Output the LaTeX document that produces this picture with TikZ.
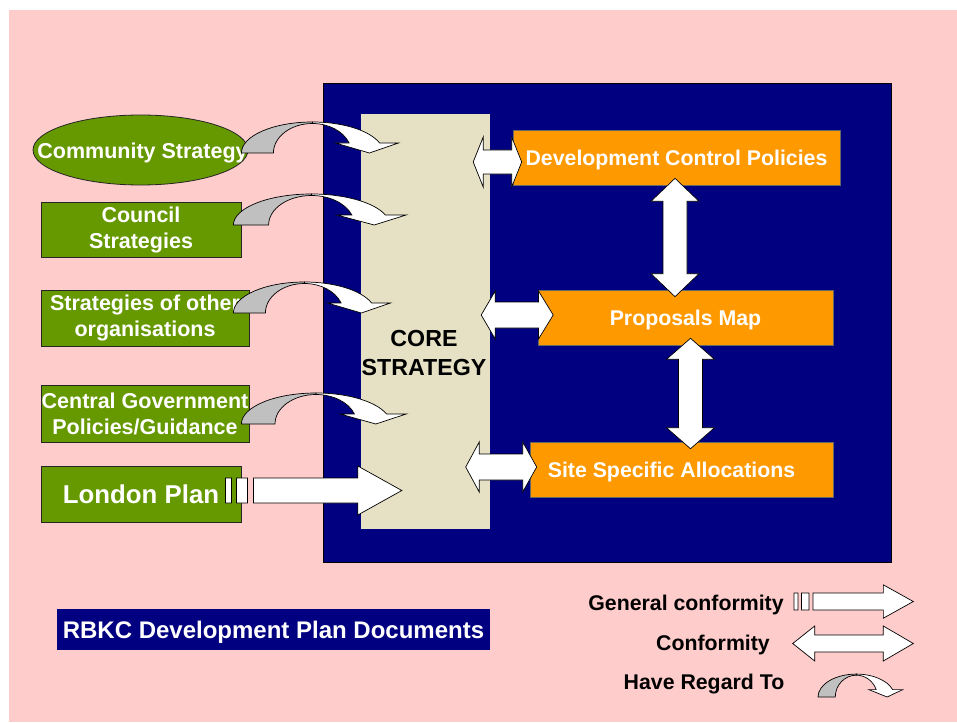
\documentclass[tikz,border=0pt]{standalone}
\usepackage{fontspec}
\setmainfont{Liberation Sans}
\usetikzlibrary{calc,shapes.geometric}

\definecolor{pagepink}{HTML}{FFCCCC}
\definecolor{plannavy}{HTML}{000080}
\definecolor{corebeige}{HTML}{E6E0C4}
\definecolor{docorange}{HTML}{FF9900}
\definecolor{srcgreen}{HTML}{669900}
\definecolor{backgray}{HTML}{C0C0C0}

% horizontal double block arrow: left tip, right tip, left head length,
% right head length, head half-height, shaft half-height
\newcommand\hdblarrow[6]{%
  \draw[blockarrow] let \p1=(#1), \p2=(#2) in
    (\x1,\y1) -- (\x1+#3pt,\y1+#5pt) -- (\x1+#3pt,\y1+#6pt) -- (\x2-#4pt,\y1+#6pt)
    -- (\x2-#4pt,\y1+#5pt) -- (\x2,\y1) -- (\x2-#4pt,\y1-#5pt) -- (\x2-#4pt,\y1-#6pt)
    -- (\x1+#3pt,\y1-#6pt) -- (\x1+#3pt,\y1-#5pt) -- cycle;}

% vertical double block arrow: top tip, bottom tip, head length,
% head half-width, shaft half-width
\newcommand\vdblarrow[5]{%
  \draw[blockarrow] let \p1=(#1), \p2=(#2) in
    (\x1,\y1) -- (\x1+#4pt,\y1-#3pt) -- (\x1+#5pt,\y1-#3pt) -- (\x1+#5pt,\y2+#3pt)
    -- (\x1+#4pt,\y2+#3pt) -- (\x1,\y2) -- (\x1-#4pt,\y2+#3pt) -- (\x1-#5pt,\y2+#3pt)
    -- (\x1-#5pt,\y1-#3pt) -- (\x1-#4pt,\y1-#3pt) -- cycle;}

% "general conformity" arrow: two bars then a block arrow; start, tip, scale
\newcommand\genarrow[3]{%
  \draw[blockarrow] let \p1=(#1), \p2=(#2) in
    (\x1,\y2-12.5pt*#3) rectangle (\x1+6pt*#3,\y2+12.5pt*#3)
    (\x1+11pt*#3,\y2-12.5pt*#3) rectangle (\x1+22pt*#3,\y2+12.5pt*#3)
    (\x1+28pt*#3,\y2-12.5pt*#3) -- (\x2-44pt*#3,\y2-12.5pt*#3)
    -- (\x2-44pt*#3,\y2-24.5pt*#3) -- (\x2,\y2) -- (\x2-44pt*#3,\y2+24.5pt*#3)
    -- (\x2-44pt*#3,\y2+12.5pt*#3) -- (\x1+28pt*#3,\y2+12.5pt*#3) -- cycle;}

\begin{document}
\begin{tikzpicture}[x=1pt,y=-1pt,
  blockarrow/.style={draw=black, line width=0.7pt, fill=white, line join=miter},
  regardback/.style={draw=black, line width=0.7pt, fill=backgray},
  srcbox/.style={draw=black!85, line width=0.8pt, fill=srcgreen, inner sep=0pt,
    text=white, font=\fontsize{21.5}{26}\selectfont\bfseries, align=center},
  docbox/.style={draw=black!60, line width=0.6pt, fill=docorange, inner sep=0pt,
    minimum height=55pt},
  doctext/.style={text=white, font=\fontsize{21.3}{25}\selectfont\bfseries,
    text height=15.2pt, text depth=0pt, inner sep=0pt},
  keytext/.style={text=black, font=\fontsize{21.3}{25}\selectfont\bfseries,
    text height=15.2pt, text depth=0pt, inner sep=0pt},
  regard/.pic={
    \draw[regardback] (0,0) .. controls (0,-17.1) and (31.8,-31) .. (71,-31)
      -- (71,-29.5) .. controls (49.5,-29.5) and (32,-16.3) .. (32,0) -- cycle;
    \draw[blockarrow] (71,-31) .. controls (101.4,-31) and (128.4,-22.5) .. (138.2,-10)
      -- (157,-10) -- (128,0) -- (94,-10) -- (107.7,-10)
      .. controls (102.1,-21.7) and (87.4,-29.5) .. (71,-29.5) -- cycle;
  },
]
\useasboundingbox (0,0) rectangle (957,722);
\fill[white] (0,0) rectangle (957,722);
\fill[pagepink] (9,10) rectangle (957,722);

% development plan frame and core strategy column
\node[draw=black, line width=0.8pt, fill=plannavy, inner sep=0pt,
      minimum width=568pt, minimum height=479pt] (plan) at (607,322.5) {};
\node[fill=corebeige, inner sep=0pt, minimum width=129pt, minimum height=415pt]
      (core) at (425.5,321.5) {};
\node[text=black, font=\fontsize{23.2}{29}\selectfont\bfseries, align=center,
      inner sep=0pt] (coretext) at (424,353.5) {CORE\\STRATEGY};

% documents
\node[docbox, doctext, minimum width=327pt] (dcp) at (676.5,157.5) {Development Control Policies};
\node[docbox, doctext, minimum width=295pt] (pm) at (685.5,317.5) {Proposals Map};
\node[docbox, minimum width=303pt] (ssa) at (681.5,469.5) {};
\node[doctext] (ssatext) at ($(ssa)+(-10,0)$) {Site Specific Allocations};

% sources
\node[ellipse, draw=black!85, line width=0.8pt, fill=srcgreen, inner sep=0pt,
      minimum width=215pt, minimum height=70pt] (cs) at (140.5,150) {};
\node[text=white, font=\fontsize{21.5}{26}\selectfont\bfseries, text height=15.4pt,
      text depth=0pt, inner sep=0pt] (cstext) at (142.5,150.5) {Community Strategy};
\node[srcbox, minimum width=200pt, minimum height=55pt] (council) at (141,229.5) {Council\\Strategies};
\node[srcbox, minimum width=208pt, minimum height=56pt] (others) at (145,318) {Strategies of other\\organisations};
\node[srcbox, minimum width=208pt, minimum height=57pt] (central) at (145,413.5) {Central Government\\Policies/Guidance};
\node[srcbox, minimum width=200pt, minimum height=56pt, font=\fontsize{25.8}{30}\selectfont\bfseries,
      text height=18.5pt, text depth=0pt] (london) at (141,494.5) {London Plan};

% title
\node[fill=plannavy, inner sep=0pt, minimum width=433pt, minimum height=41pt, text=white,
      font=\fontsize{24}{29}\selectfont\bfseries, text height=17.2pt, text depth=0pt]
      (rbkc) at (273.5,629.5) {RBKC Development Plan Documents};

% conformity arrows between the core strategy and the documents
\coordinate (h1l) at ($(core.east|-dcp.west)+(-17,4.5)$);
\coordinate (h1r) at ($(dcp.west)+(9,4.5)$);
\hdblarrow{h1l}{h1r}{10}{10}{25}{12}
\coordinate (h2l) at ($(core.east|-pm.west)+(-9,-2.5)$);
\coordinate (h2r) at ($(pm.west)+(15.5,-2.5)$);
\hdblarrow{h2l}{h2r}{14}{14.7}{24}{13}
\coordinate (h3l) at ($(core.east|-ssa.west)+(-24.5,-2.5)$);
\coordinate (h3r) at ($(ssa.west)+(7,-2.5)$);
\hdblarrow{h3l}{h3r}{13.5}{14}{25}{13}

\coordinate (v1t) at ($(dcp.south)+(-1.5,-7)$);
\coordinate (v1b) at ($(pm.north-|dcp.south)+(-1.5,7)$);
\vdblarrow{v1t}{v1b}{23}{24}{12}
\coordinate (v2t) at ($(pm.south)+(5,-7)$);
\coordinate (v2b) at ($(ssa.north-|pm.south)+(5,7)$);
\vdblarrow{v2t}{v2b}{21}{24}{12}

% general conformity with the London Plan
\coordinate (lpa) at ($(london.east)+(-16,-4)$);
\coordinate (lpb) at ($(core.west|-london.east)+(41,-4)$);
\genarrow{lpa}{lpb}{1}

% have-regard-to arrows
\pic at ($(cs.east)+(-7,3)$) {regard};
\pic[xscale=1.1] at ($(council.east)+(-8,-4.5)$) {regard};
\pic at ($(others.east)+(-16,-5)$) {regard};
\pic[xscale=1.05] at ($(central.east)+(-8,10.5)$) {regard};

% key
\node[keytext] (kgen) at (686,603.3) {General conformity};
\node[keytext] (kcon) at (713,643) {Conformity};
\node[keytext] (kreg) at (704,681.7) {Have Regard To};
\coordinate (kga) at (794,601.5);
\coordinate (kgb) at (913.3,601.5);
\genarrow{kga}{kgb}{0.68}
\coordinate (kca) at (792.7,643.5);
\coordinate (kcb) at (913.3,643.5);
\hdblarrow{kca}{kcb}{22}{30}{17.5}{8.5}
\pic[xscale=0.54, yscale=0.74] at (818,697) {regard};
\end{tikzpicture}
\end{document}
